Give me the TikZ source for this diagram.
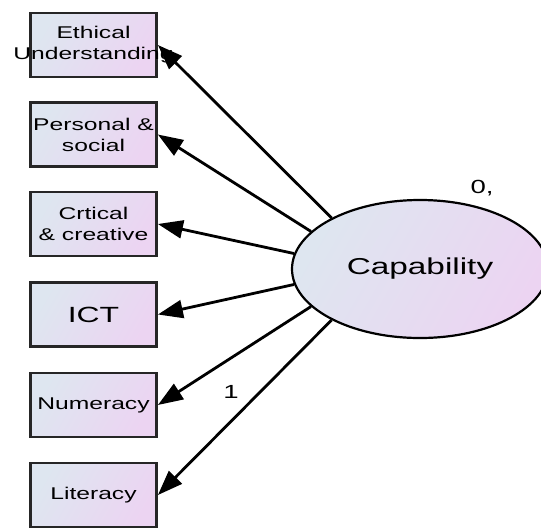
\documentclass[tikz,border=0pt]{standalone}
\usepackage{fontspec}
\setmainfont{Liberation Sans}[FakeStretch=1.45]
\usetikzlibrary{arrows.meta,shapes.geometric}

\definecolor{shadeleft}{RGB}{222,230,240}
\definecolor{shaderight}{RGB}{236,212,242}

\begin{document}
\begin{tikzpicture}[x=1pt,y=-1pt]
          \tikzset{indicator/.style={draw=black!85,line width=2.8pt,minimum width=126pt,minimum height=64pt,
                     left color=shadeleft,right color=shaderight,shading angle=60,
                     label={[indicator text]center:#1}},
                   indicator text/.style={align=center,font=\fontsize{17}{21}\selectfont,text=black},
                   latent/.style={draw,ellipse,line width=2.2pt,minimum width=256pt,minimum height=138pt,
                     left color=shadeleft,right color=shaderight,shading angle=60,
                     font=\fontsize{23}{27}\selectfont,text=black},
                   loading/.style={line width=2.8pt,-{Triangle[length=25pt,width=18pt]}},
                   estimate/.style={font=\fontsize{19}{22}\selectfont,text=black}}

          \path[use as bounding box,clip] (0,0) rectangle (541,528);

          \node [indicator={Ethical\\Understanding}] (ethical) at (93.5,45) {};
          \node [indicator={Personal \&\\social}] (personal) at (93.5,134.5) {};
          \node [indicator={Crtical\\\& creative}] (critical) at (93.5,224) {};
          \node [indicator={\fontsize{22}{26}\selectfont ICT}] (ict) at (93.5,314.5) {};
          \node [indicator={Numeracy}] (numeracy) at (93.5,405) {};
          \node [indicator={Literacy}] (literacy) at (93.5,495) {};

          \node [latent] (capability) at (420,269) {Capability};

          \draw [loading] (capability.150) -- (ethical.east);
          \draw [loading] (capability.161) -- (personal.east);
          \draw [loading] (capability.173) -- (critical.east);
          \draw [loading] (capability.187) -- (ict.east);
          \draw [loading] (capability.199) -- (numeracy.east);
          \draw [loading] (capability.210) -- (literacy.east);

          \node [estimate] (variance) at (482,188) {0,};
          \node [estimate] (fixed) at (231,392) {1};

        \end{tikzpicture}
\end{document}
